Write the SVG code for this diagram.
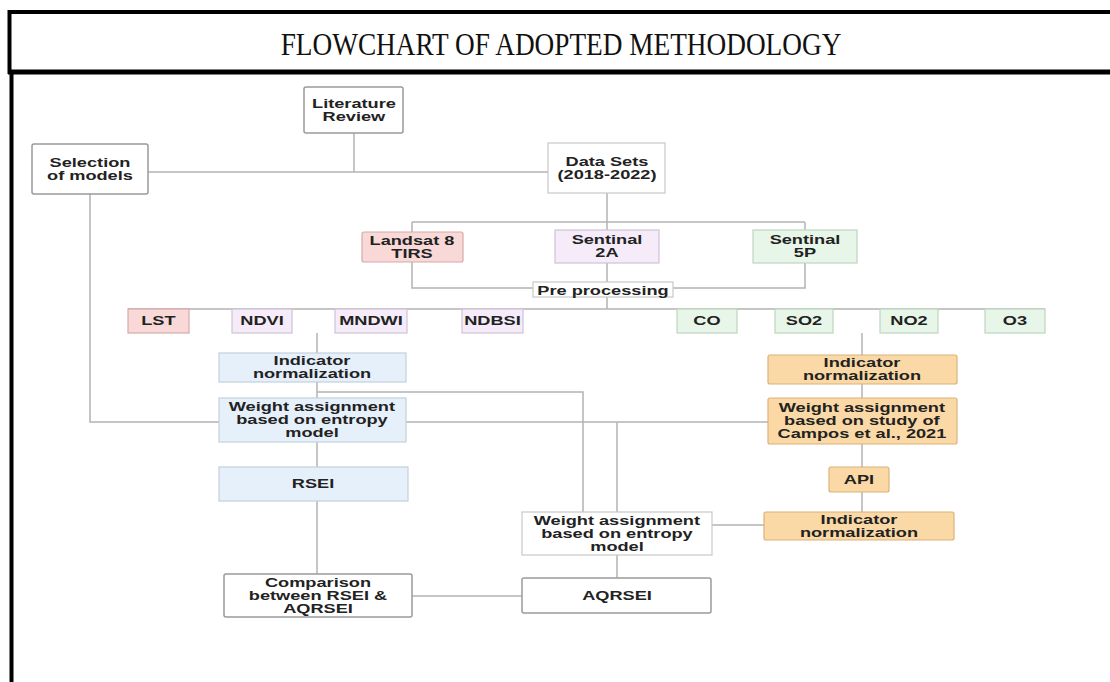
<svg xmlns="http://www.w3.org/2000/svg" width="1110" height="682" viewBox="0 0 1110 682">
<style>
.t{font-family:"Liberation Sans",Arial,sans-serif;font-weight:bold;font-size:13px;fill:#222;text-anchor:middle;transform-box:fill-box;transform-origin:center;transform:scaleX(1.4)}
.title{font-family:"Liberation Serif","Times New Roman",serif;font-size:31px;fill:#111;text-anchor:middle;transform-box:fill-box;transform-origin:center;transform:scaleX(0.88)}
.w{fill:#fff;stroke:#9a9a9a;stroke-width:1.5}
.wl{fill:#fff;stroke:#c8c8c8;stroke-width:1.2}
.pk{fill:#f8d9d8;stroke:#d6a9a8;stroke-width:1.2}
.lv{fill:#f5ebf9;stroke:#cfc4d6;stroke-width:1.2}
.gr{fill:#e7f6e8;stroke:#bfd6c0;stroke-width:1.2}
.bl{fill:#e6f0fb;stroke:#c4d0dc;stroke-width:1.2}
.or{fill:#fbd9a6;stroke:#dcb27a;stroke-width:1.2}
.c line,.c polyline{stroke:#b3b3b3;stroke-width:1.5;fill:none}
</style>
<rect width="1110" height="682" fill="#fff"/>
<g id="frame">
<rect x="9.5" y="12" width="1110" height="60" fill="none" stroke="#000" stroke-width="4"/>
<line x1="8" y1="72" x2="1110" y2="72" stroke="#000" stroke-width="5"/>
<line x1="11.5" y1="72" x2="11.5" y2="682" stroke="#000" stroke-width="4"/>
<text class="title" x="561" y="55">FLOWCHART OF ADOPTED METHODOLOGY</text>
</g>
<g id="connectors" class="c">
<line x1="354" y1="133" x2="354" y2="172"/>
<line x1="148" y1="172" x2="548" y2="172"/>
<line x1="607" y1="193" x2="607" y2="230"/>
<line x1="412" y1="222" x2="805" y2="222"/>
<line x1="412" y1="222" x2="412" y2="232"/>
<line x1="805" y1="222" x2="805" y2="230"/>
<polyline points="412,262 412,288 533,288"/>
<polyline points="805,263 805,288 673,288"/>
<line x1="607" y1="263" x2="607" y2="282"/>
<line x1="607" y1="297" x2="607" y2="309"/>
<line x1="128" y1="309" x2="1045" y2="309"/>
<line x1="317" y1="333" x2="317" y2="353"/>
<line x1="317" y1="382" x2="317" y2="398"/>
<polyline points="317,392 583,392 583,512"/>
<polyline points="90,194 90,422 219,422"/>
<line x1="406" y1="422" x2="768" y2="422"/>
<line x1="617" y1="422" x2="617" y2="512"/>
<line x1="317" y1="442" x2="317" y2="467"/>
<line x1="317" y1="501" x2="317" y2="574"/>
<line x1="412" y1="596" x2="522" y2="596"/>
<line x1="617" y1="555" x2="617" y2="578"/>
<line x1="712" y1="525" x2="764" y2="525"/>
<line x1="862" y1="333" x2="862" y2="355"/>
<line x1="862" y1="384" x2="862" y2="398"/>
<line x1="862" y1="444" x2="862" y2="467"/>
<line x1="862" y1="492" x2="862" y2="512"/>
</g>
<g id="literature-review"><rect class="w" x="304" y="87" width="99" height="46" rx="2"/><text class="t" x="354" y="108">Literature</text><text class="t" x="354" y="121">Review</text></g>
<g id="selection-of-models"><rect class="w" x="32" y="144" width="116" height="50" rx="2"/><text class="t" x="90" y="167">Selection</text><text class="t" x="90" y="180">of models</text></g>
<g id="data-sets"><rect class="wl" x="548" y="143" width="117" height="50"/><text class="t" x="607" y="166">Data Sets</text><text class="t" x="607" y="179">(2018-2022)</text></g>
<g id="landsat"><rect class="pk" x="362" y="232" width="101" height="30" rx="2"/><text class="t" x="412" y="245">Landsat 8</text><text class="t" x="412" y="258">TIRS</text></g>
<g id="sentinal-2a"><rect class="lv" x="555" y="230" width="104" height="33"/><text class="t" x="607" y="244">Sentinal</text><text class="t" x="607" y="257">2A</text></g>
<g id="sentinal-5p"><rect class="gr" x="753" y="230" width="104" height="33"/><text class="t" x="805" y="244">Sentinal</text><text class="t" x="805" y="257">5P</text></g>
<g id="pre-processing"><rect class="wl" x="533" y="282" width="140" height="15"/><text class="t" x="603" y="295">Pre processing</text></g>
<g id="lst"><rect class="pk" x="128" y="309" width="61" height="24"/><text class="t" x="158.5" y="325.5">LST</text></g>
<g id="ndvi"><rect class="lv" x="232" y="309" width="60" height="24"/><text class="t" x="262" y="325.5">NDVI</text></g>
<g id="mndwi"><rect class="lv" x="335" y="309" width="72" height="24"/><text class="t" x="371" y="325.5">MNDWI</text></g>
<g id="ndbsi"><rect class="lv" x="462" y="309" width="61" height="24"/><text class="t" x="492.5" y="325.5">NDBSI</text></g>
<g id="co"><rect class="gr" x="677" y="309" width="60" height="24"/><text class="t" x="707" y="325.5">CO</text></g>
<g id="so2"><rect class="gr" x="775" y="309" width="58" height="24"/><text class="t" x="804" y="325.5">SO2</text></g>
<g id="no2"><rect class="gr" x="880" y="309" width="58" height="24"/><text class="t" x="909" y="325.5">NO2</text></g>
<g id="o3"><rect class="gr" x="985" y="309" width="60" height="24"/><text class="t" x="1015" y="325.5">O3</text></g>
<g id="indicator-norm-rs"><rect class="bl" x="219" y="353" width="187" height="29"/><text class="t" x="312" y="365.5">Indicator</text><text class="t" x="312" y="378.5">normalization</text></g>
<g id="weight-rs"><rect class="bl" x="219" y="398" width="187" height="44"/><text class="t" x="312" y="411.5">Weight assignment</text><text class="t" x="312" y="424.5">based on entropy</text><text class="t" x="312" y="437.5">model</text></g>
<g id="rsei"><rect class="bl" x="219" y="467" width="189" height="34"/><text class="t" x="313" y="488.5">RSEI</text></g>
<g id="comparison"><rect class="w" x="224" y="574" width="188" height="43" rx="2"/><text class="t" x="318" y="587">Comparison</text><text class="t" x="318" y="600">between RSEI &amp;</text><text class="t" x="318" y="613">AQRSEI</text></g>
<g id="weight-aq"><rect class="wl" x="522" y="512" width="190" height="43"/><text class="t" x="617" y="525">Weight assignment</text><text class="t" x="617" y="538">based on entropy</text><text class="t" x="617" y="551">model</text></g>
<g id="aqrsei"><rect class="w" x="522" y="578" width="189" height="35" rx="2"/><text class="t" x="617" y="600">AQRSEI</text></g>
<g id="indicator-norm-aq"><rect class="or" x="768" y="355" width="189" height="29" rx="2"/><text class="t" x="862" y="367.5">Indicator</text><text class="t" x="862" y="380.5">normalization</text></g>
<g id="weight-campos"><rect class="or" x="768" y="398" width="189" height="46" rx="2"/><text class="t" x="862" y="412.5">Weight assignment</text><text class="t" x="862" y="425.5">based on study of</text><text class="t" x="862" y="438.5">Campos et al., 2021</text></g>
<g id="api"><rect class="or" x="829" y="467" width="60" height="25" rx="2"/><text class="t" x="859" y="484">API</text></g>
<g id="indicator-norm-api"><rect class="or" x="764" y="512" width="190" height="28" rx="2"/><text class="t" x="859" y="524">Indicator</text><text class="t" x="859" y="537">normalization</text></g>
</svg>
